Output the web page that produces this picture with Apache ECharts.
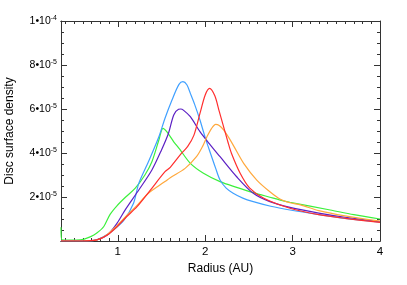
<!DOCTYPE html>
<html><head><meta charset="utf-8">
<script src="https://cdn.jsdelivr.net/npm/echarts@6/dist/echarts.min.js"></script>
<style>html,body{margin:0;padding:0;background:#fff}#c{width:407px;height:285px}</style>
</head><body><div id="c"></div>
<script>
// y values in units of 1e-5
const green = [[0.35,0.62],[0.36,0.05],[0.45,0.04],[0.57,0.05],[0.69,0.2],[0.76,0.36],[0.84,0.66],[0.91,1.2],[0.99,1.6],[1.09,2.0],[1.2,2.4],[1.31,3.0],[1.39,3.6],[1.47,4.59],[1.517,5.12],[1.56,4.97],[1.64,4.51],[1.71,4.16],[1.83,3.53],[1.98,3.08],[2.17,2.7],[2.36,2.44],[2.55,2.2],[2.74,1.99],[2.86,1.86],[2.97,1.76],[3.43,1.41],[3.7,1.2],[4.0,1.0]];
const blue = [[0.35,0],[0.6,0],[0.72,0.02],[0.84,0.2],[0.95,0.5],[1.07,0.95],[1.18,1.72],[1.24,2.62],[1.35,3.6],[1.47,4.74],[1.54,5.58],[1.62,6.41],[1.7,7.12],[1.745,7.24],[1.79,7.1],[1.83,6.71],[1.88,6.2],[1.94,5.5],[2.0,4.7],[2.06,3.99],[2.12,3.3],[2.17,2.77],[2.24,2.4],[2.32,2.17],[2.43,1.95],[2.55,1.79],[2.75,1.58],[2.97,1.41],[3.3,1.2],[3.6,1.03],[4.0,0.86]];
const purple = [[0.35,0],[0.6,0],[0.76,0.05],[0.88,0.27],[0.99,0.8],[1.09,1.45],[1.24,2.32],[1.39,3.23],[1.5,4.14],[1.58,4.9],[1.64,5.73],[1.695,5.99],[1.72,6.0],[1.75,5.95],[1.83,5.65],[1.94,4.97],[2.06,4.36],[2.17,3.83],[2.36,2.92],[2.55,2.17],[2.74,1.79],[2.97,1.53],[3.3,1.27],[3.6,1.08],[4.0,0.88]];
const orange = [[0.35,0],[0.6,0],[0.76,0.05],[0.88,0.3],[0.99,0.7],[1.1,1.15],[1.22,1.62],[1.35,2.17],[1.54,2.7],[1.6,2.88],[1.77,3.3],[1.9,3.83],[1.97,4.3],[2.02,4.74],[2.07,5.1],[2.12,5.3],[2.16,5.25],[2.21,5.05],[2.27,4.7],[2.33,4.29],[2.44,3.53],[2.59,2.77],[2.74,2.24],[2.86,1.9],[2.97,1.74],[3.09,1.64],[3.3,1.38],[3.6,1.14],[4.0,0.9]];
const red = [[0.35,0],[0.6,0],[0.76,0.05],[0.88,0.27],[0.99,0.65],[1.1,1.1],[1.22,1.56],[1.37,2.3],[1.54,3.15],[1.6,3.35],[1.73,3.99],[1.8,4.3],[1.87,4.8],[1.94,5.8],[2.0,6.64],[2.05,6.94],[2.11,6.6],[2.16,5.9],[2.21,5.2],[2.26,4.5],[2.3,3.99],[2.4,3.08],[2.51,2.4],[2.67,1.94],[2.97,1.49],[3.3,1.2],[3.6,1.03],[4.0,0.85]];

const xMajorTicks = [1, 2, 3, 4];
const xMinorTicks = [];
for (let i = 4; i <= 40; i++) { if (i % 10 !== 0) xMinorTicks.push(i / 10); }
const yTickVals = [2, 4, 6, 8, 10];
const yTickMant = ['2', '4', '6', '8', '1'];
const yTickExp = ['-5', '-5', '-5', '-5', '-4'];

const FONT = 'Liberation Sans, Arial, Helvetica, sans-serif';
const AX = '#333';
const XMIN = 0.35, XMAX = 4;

function xAxisDef(pos, major, labels) {
  return {
    type: 'value', position: pos, min: XMIN, max: XMAX,
    axisLine: { show: true, onZero: false, lineStyle: { color: AX, width: 1 } },
    axisTick: { show: true, inside: true, length: major ? 6 : 3, lineStyle: { color: AX, width: 1 },
      customValues: major ? xMajorTicks : xMinorTicks },
    axisLabel: labels ? { show: true, customValues: xMajorTicks, margin: 5, color: '#000', fontSize: 11.5, fontFamily: FONT,
      formatter: v => String(v) } : { show: false },
    splitLine: { show: false },
    name: labels ? 'Radius (AU)' : '', nameLocation: 'middle', nameGap: 22,
    nameTextStyle: { color: '#000', fontSize: 12, fontFamily: FONT }
  };
}
function yAxisDef(pos, labels) {
  return {
    type: 'value', position: pos, min: 0, max: 10, interval: 2,
    axisLine: { show: true, onZero: false, lineStyle: { color: AX, width: 1 } },
    axisTick: { show: true, inside: true, length: 6, lineStyle: { color: AX, width: 1 } },
    minorTick: { show: true, splitNumber: 4, length: 3, lineStyle: { color: AX, width: 1 } },
    axisLabel: labels ? {
      show: true, margin: 4, fontFamily: FONT, color: '#000',
      formatter: v => {
        const i = yTickVals.indexOf(v);
        if (i < 0) return '';
        return '{m|' + yTickMant[i] + '•10}{e|' + yTickExp[i] + '}';
      },
      rich: {
        m: { fontSize: 10.5, lineHeight: 12, fontFamily: FONT, color: '#000', verticalAlign: 'bottom' },
        e: { fontSize: 7, lineHeight: 5, fontFamily: FONT, color: '#000', verticalAlign: 'top' }
      }
    } : { show: false },
    splitLine: { show: false }, minorSplitLine: { show: false },
    name: labels ? 'Disc surface density' : '', nameLocation: 'middle', nameGap: 45,
    nameTextStyle: { color: '#000', fontSize: 12, fontFamily: FONT }
  };
}
function line(data, color) {
  return { type: 'line', data: data, showSymbol: false, symbol: 'none', smooth: 0.3,
    lineStyle: { color: color, width: 1.2 }, xAxisIndex: 0, yAxisIndex: 0, animation: false, silent: true };
}
const chart = echarts.init(document.getElementById('c'), null, { renderer: 'canvas' });
chart.setOption({
  animation: false,
  backgroundColor: '#fff',
  grid: { left: 61, right: 27, top: 21, bottom: 44, containLabel: false, outerBoundsMode: 'none' },
  xAxis: [xAxisDef('bottom', true, true), xAxisDef('bottom', false, false), xAxisDef('top', true, false), xAxisDef('top', false, false)],
  yAxis: [yAxisDef('left', true), yAxisDef('right', false)],
  series: [
    line(green, '#3cf03c'),
    line(blue, '#40a0ff'),
    line(purple, '#5c20c4'),
    line(orange, '#ffa83c'),
    line(red, '#ff2e2e')
  ]
});
</script></body></html>
